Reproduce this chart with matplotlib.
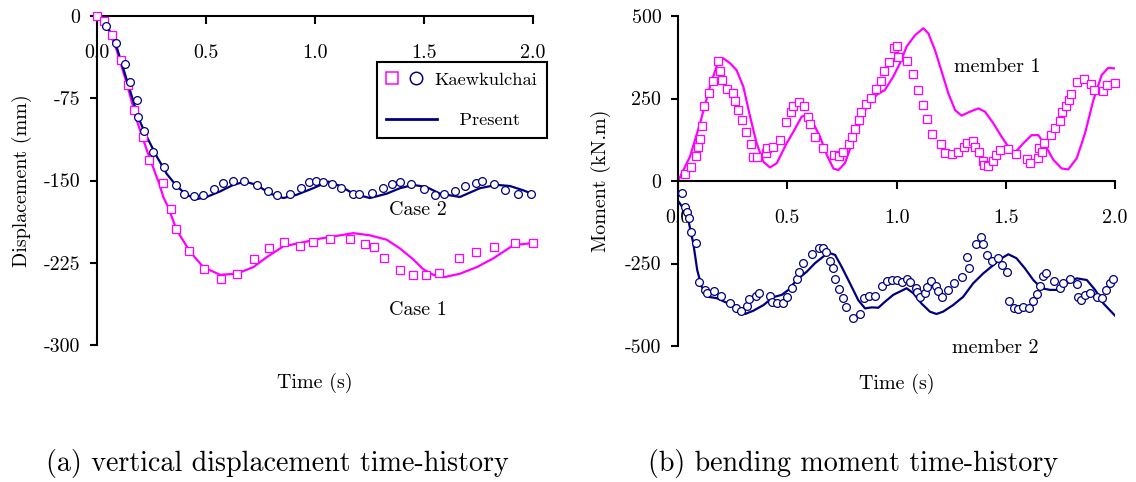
import matplotlib
matplotlib.use("Agg")
import matplotlib.pyplot as plt
from matplotlib.legend_handler import HandlerBase
from matplotlib.lines import Line2D

plt.rcParams["font.family"] = "cmr10"
plt.rcParams["axes.unicode_minus"] = False
plt.rcParams["mathtext.fontset"] = "cm"

MAGENTA = "#FF00FF"
NAVY = "#000080"

# ---------------- (a) vertical displacement ----------------
x_ticks = [0.0, 0.5, 1.0, 1.5, 2.0]
x_tick_labels = ["0.0", "0.5", "1.0", "1.5", "2.0"]
disp_ticks = [0, -75, -150, -225, -300]
disp_tick_labels = ["0", "-75", "-150", "-225", "-300"]

# Kaewkulchai, case 1 (squares)
case1_ref_t = [0.0, 0.034, 0.070, 0.110, 0.144, 0.171, 0.212, 0.240, 0.301, 0.339,
               0.361, 0.424, 0.491, 0.570, 0.642, 0.720, 0.789, 0.858, 0.930, 0.991,
               1.069, 1.161, 1.229, 1.269, 1.318, 1.388, 1.448, 1.508, 1.567, 1.659,
               1.739, 1.820, 1.919, 1.998]
case1_ref_d = [0, -5, -17, -40, -63, -86, -110, -131, -152, -176,
               -194, -214, -231, -240, -235, -222, -212, -206, -210, -206,
               -203, -203, -208, -211, -221, -232, -236, -236, -234, -221,
               -215, -211, -207, -207]

# Present, case 1 (line)
case1_t = [0, 0.044, 0.090, 0.136, 0.182, 0.228, 0.274, 0.284, 0.304, 0.326,
           0.365, 0.427, 0.488, 0.564, 0.641, 0.717, 0.778, 0.855, 0.931, 1.023,
           1.115, 1.176, 1.252, 1.329, 1.390, 1.451, 1.497, 1.543, 1.596, 1.665,
           1.742, 1.818, 1.910, 1.998]
case1_d = [0, -7, -31, -61, -95, -122, -147, -152, -165, -174,
           -195, -215, -229, -236, -235, -229, -220, -210, -207, -203,
           -200, -198, -200, -204, -212, -222, -231, -236, -238, -235,
           -229, -221, -209, -207]

# Kaewkulchai, case 2 (circles)
case2_ref_t = [0.040, 0.085, 0.128, 0.151, 0.183, 0.190, 0.217, 0.258, 0.309, 0.361,
               0.400, 0.445, 0.488, 0.538, 0.577, 0.625, 0.674, 0.735, 0.786, 0.827,
               0.885, 0.934, 0.974, 1.003, 1.035, 1.076, 1.118, 1.173, 1.202, 1.261,
               1.313, 1.355, 1.390, 1.440, 1.500, 1.550, 1.592, 1.642, 1.688, 1.737,
               1.765, 1.821, 1.872, 1.933, 1.989]
case2_ref_d = [-9, -25, -44, -60, -77, -92, -105, -124, -138, -154,
               -162, -164, -163, -158, -152, -150, -150, -154, -160, -163,
               -162, -157, -151, -150, -151, -153, -157, -162, -162, -161,
               -157, -153, -151, -153, -158, -163, -162, -160, -155, -152,
               -150, -153, -159, -162, -162]

# Present, case 2 (line)
case2_t = [0, 0.037, 0.085, 0.144, 0.190, 0.228, 0.274, 0.320, 0.365, 0.411,
           0.457, 0.503, 0.564, 0.625, 0.679, 0.732, 0.794, 0.855, 0.916, 0.992,
           1.061, 1.115, 1.176, 1.252, 1.329, 1.390, 1.451, 1.512, 1.573, 1.665,
           1.757, 1.833, 1.894, 1.956, 1.994]
case2_d = [0, -5, -25, -63, -93, -110, -128, -144, -155, -163,
           -167, -165, -160, -154, -151, -154, -162, -166, -163, -157,
           -151, -155, -162, -166, -162, -157, -154, -156, -162, -165,
           -157, -154, -155, -159, -162]

# ---------------- (b) bending moment ----------------
moment_ticks = [500, 250, 0, -250, -500]
moment_tick_labels = ["500", "250", "0", "-250", "-500"]

# Kaewkulchai, member 1 (squares)
m1_ref_t = [0.032, 0.059, 0.082, 0.090, 0.101, 0.108, 0.119, 0.142, 0.159, 0.183,
            0.192, 0.201, 0.223, 0.250, 0.261, 0.273, 0.291, 0.311, 0.332, 0.345,
            0.363, 0.403, 0.406, 0.433, 0.467, 0.494, 0.517, 0.525, 0.555, 0.577,
            0.596, 0.604, 0.627, 0.665, 0.714, 0.737, 0.757, 0.784, 0.795, 0.810,
            0.828, 0.838, 0.859, 0.883, 0.908, 0.928, 0.944, 0.967, 0.989, 1.001,
            1.009, 1.050, 1.077, 1.100, 1.120, 1.138, 1.161, 1.204, 1.222, 1.253,
            1.280, 1.310, 1.321, 1.352, 1.359, 1.379, 1.394, 1.402, 1.420, 1.440,
            1.455, 1.474, 1.512, 1.545, 1.596, 1.611, 1.646, 1.654, 1.664, 1.675,
            1.706, 1.725, 1.748, 1.759, 1.774, 1.789, 1.799, 1.825, 1.858, 1.890,
            1.905, 1.947, 1.965, 2.0]
m1_ref_m = [20, 41, 77, 104, 127, 168, 227, 268, 303, 364,
            333, 306, 278, 268, 243, 215, 185, 148, 112, 74,
            72, 86, 99, 102, 124, 180, 208, 227, 240, 227,
            195, 172, 134, 101, 79, 76, 89, 111, 134, 158,
            185, 208, 232, 252, 278, 303, 334, 361, 404, 410,
            377, 364, 324, 276, 230, 188, 142, 111, 86, 81,
            89, 104, 116, 121, 104, 89, 62, 48, 46, 62,
            79, 94, 96, 81, 66, 54, 69, 99, 89, 116,
            139, 160, 182, 210, 227, 245, 264, 299, 309, 293,
            276, 274, 291, 298]

# Present, member 1 (line)
m1_t = [0, 0.055, 0.101, 0.146, 0.184, 0.207, 0.238, 0.268, 0.299, 0.330,
        0.360, 0.391, 0.421, 0.452, 0.497, 0.528, 0.566, 0.589, 0.612, 0.650,
        0.681, 0.711, 0.734, 0.764, 0.795, 0.825, 0.863, 0.909, 0.947, 0.985,
        1.016, 1.046, 1.085, 1.123, 1.146, 1.176, 1.207, 1.237, 1.268, 1.298,
        1.336, 1.375, 1.405, 1.443, 1.481, 1.512, 1.542, 1.580, 1.618, 1.649,
        1.680, 1.718, 1.756, 1.786, 1.825, 1.863, 1.901, 1.939, 1.969, 2.0]
m1_m = [0, 74, 175, 286, 362, 372, 357, 336, 286, 195,
        114, 58, 41, 54, 114, 149, 195, 200, 185, 134,
        79, 38, 33, 54, 111, 160, 225, 261, 276, 316,
        357, 407, 442, 463, 447, 397, 331, 266, 215, 198,
        210, 220, 210, 175, 134, 104, 86, 114, 139, 139,
        109, 64, 38, 35, 69, 145, 245, 321, 343, 341]

# Kaewkulchai, member 2 (circles)
m2_ref_t = [0.017, 0.032, 0.043, 0.052, 0.058, 0.082, 0.097, 0.124, 0.131, 0.165,
            0.197, 0.238, 0.265, 0.288, 0.317, 0.326, 0.355, 0.371, 0.421, 0.429,
            0.452, 0.479, 0.500, 0.523, 0.543, 0.555, 0.570, 0.612, 0.645, 0.665,
            0.676, 0.696, 0.708, 0.718, 0.737, 0.757, 0.769, 0.799, 0.833, 0.851,
            0.874, 0.902, 0.932, 0.958, 0.981, 1.004, 1.024, 1.046, 1.064, 1.088,
            1.096, 1.109, 1.129, 1.141, 1.156, 1.179, 1.190, 1.206, 1.237, 1.263,
            1.302, 1.321, 1.332, 1.362, 1.385, 1.397, 1.416, 1.435, 1.466, 1.484,
            1.504, 1.516, 1.538, 1.558, 1.581, 1.608, 1.624, 1.642, 1.657, 1.669,
            1.684, 1.721, 1.748, 1.764, 1.794, 1.825, 1.832, 1.843, 1.863, 1.886,
            1.916, 1.939, 1.959, 1.977, 1.989]
m2_ref_m = [-35, -80, -95, -111, -155, -189, -307, -330, -340, -333,
            -347, -371, -386, -393, -379, -358, -348, -340, -348, -366,
            -371, -369, -352, -325, -298, -275, -248, -221, -202, -204,
            -216, -241, -265, -297, -327, -355, -381, -414, -403, -354,
            -348, -348, -318, -302, -300, -300, -305, -297, -307, -323,
            -337, -351, -338, -322, -302, -318, -333, -351, -330, -310,
            -290, -229, -263, -192, -171, -192, -224, -241, -234, -255,
            -275, -363, -384, -389, -383, -386, -364, -343, -318, -287,
            -280, -302, -325, -308, -298, -313, -352, -361, -345, -340,
            -351, -355, -330, -308, -297]

# Present, member 2 (line)
m2_t = [0, 0.024, 0.047, 0.070, 0.088, 0.108, 0.139, 0.177, 0.223, 0.269,
        0.307, 0.345, 0.391, 0.436, 0.475, 0.505, 0.543, 0.589, 0.627, 0.665,
        0.688, 0.719, 0.749, 0.787, 0.825, 0.856, 0.886, 0.917, 0.947, 0.985,
        1.016, 1.046, 1.077, 1.114, 1.153, 1.183, 1.213, 1.259, 1.305, 1.351,
        1.397, 1.443, 1.481, 1.512, 1.549, 1.588, 1.626, 1.664, 1.703, 1.741,
        1.779, 1.825, 1.871, 1.909, 1.947, 2.0]
m2_m = [-60, -83, -118, -189, -270, -320, -351, -355, -369, -386,
        -403, -393, -376, -352, -345, -330, -300, -275, -249, -229,
        -217, -224, -260, -310, -361, -386, -383, -384, -366, -345,
        -335, -325, -340, -371, -396, -403, -396, -376, -351, -310,
        -280, -255, -234, -222, -234, -265, -300, -325, -330, -330,
        -310, -295, -300, -330, -371, -408]

W, H = 1136, 482
fig = plt.figure(figsize=(W / 100, H / 100), dpi=100)
ax1 = fig.add_axes([97 / W, 1 - 345 / H, 436 / W, 329 / H])
ax2 = fig.add_axes([678 / W, 1 - 346 / H, 437 / W, 330 / H])

FS = 14.4
LEG_FS = 13.3
line_kw = dict(lw=1.6, zorder=2)
sq_kw = dict(ls="none", marker="s", ms=5.6, mfc="white", mec=MAGENTA, mew=0.9,
             zorder=3, clip_on=False)
ci_kw = dict(ls="none", marker="o", ms=5.6, mfc="white", mec=NAVY, mew=0.9,
             zorder=3, clip_on=False)


class MarkerPairHandler(HandlerBase):
    """Legend handle showing two marker-only lines side by side."""

    def __init__(self, positions=(0.1, 0.59), scale=1.6, **kw):
        super().__init__(**kw)
        self.positions = positions
        self.scale = scale

    def create_artists(self, legend, orig_handle, xdescent, ydescent,
                       width, height, fontsize, trans):
        y = height / 2 - ydescent
        artists = []
        for h, fx in zip(orig_handle, self.positions):
            m = Line2D([width * fx - xdescent], [y], ls="none",
                       marker=h.get_marker(),
                       ms=h.get_markersize() * self.scale,
                       mfc=h.get_markerfacecolor(),
                       mec=h.get_markeredgecolor(),
                       mew=h.get_markeredgewidth() * 1.2)
            m.set_transform(trans)
            artists.append(m)
        return artists


def style_axis(ax, yticks, ylabels):
    for side in ("top", "right"):
        ax.spines[side].set_visible(False)
    ax.spines["bottom"].set_position(("data", 0))
    for side in ("left", "bottom"):
        ax.spines[side].set_linewidth(1.5)
        ax.spines[side].set_color("black")
    ax.set_xlim(0, 2)
    ax.set_xticks(x_ticks, labels=x_tick_labels)
    ax.set_yticks(yticks, labels=ylabels)
    ax.tick_params(axis="x", direction="out", length=6, width=1.5, pad=14,
                   labelsize=FS)
    ax.tick_params(axis="y", direction="out", length=5, width=1.5, pad=7,
                   labelsize=FS)
    ax.set_facecolor("none")


# (a)
ax1.plot(case1_t, case1_d, color=MAGENTA, **line_kw)
p_present, = ax1.plot(case2_t, case2_d, color=NAVY, **line_kw)
p_sq, = ax1.plot(case1_ref_t, case1_ref_d, **sq_kw)
p_ci, = ax1.plot(case2_ref_t, case2_ref_d, **ci_kw)
ax1.set_ylim(-300, 0)
style_axis(ax1, disp_ticks, disp_tick_labels)
ax1.set_xlabel("Time (s)", fontsize=FS)
ax1.xaxis.set_label_coords(0.5, -0.085)
ax1.set_ylabel("Displacement (mm)", fontsize=FS)
ax1.yaxis.set_label_coords(-0.149, 0.5)
ax1.text(1.47, -177, "Case 2", ha="center", va="center", fontsize=FS)
ax1.text(1.47, -268, "Case 1", ha="center", va="center", fontsize=FS)

present_line = Line2D([], [], color=NAVY, lw=2.0)
leg = ax1.legend([(p_sq, p_ci), present_line],
                 ["Kaewkulchai", "    Present"],
                 handler_map={tuple: MarkerPairHandler()},
                 loc="upper right", bbox_to_anchor=(547 / W, 1 - 62 / H),
                 bbox_transform=fig.transFigure, fontsize=LEG_FS,
                 handlelength=2.75, handletextpad=-0.15, labelspacing=1.35,
                 borderpad=0.52, borderaxespad=0, fancybox=False,
                 framealpha=1, edgecolor="black")
leg.get_frame().set_linewidth(1.5)

# (b)
ax2.plot(m1_t, m1_m, color=MAGENTA, **line_kw)
ax2.plot(m2_t, m2_m, color=NAVY, **line_kw)
ax2.plot(m1_ref_t, m1_ref_m, **sq_kw)
ax2.plot(m2_ref_t, m2_ref_m, **ci_kw)
ax2.set_ylim(-500, 500)
style_axis(ax2, moment_ticks, moment_tick_labels)
ax2.set_xlabel("Time (s)", fontsize=FS)
ax2.xaxis.set_label_coords(0.5, -0.085)
ax2.set_ylabel("Moment (kN.m)", fontsize=FS)
ax2.yaxis.set_label_coords(-0.153, 0.5)
ax2.text(1.46, 345, "member 1", ha="center", va="center", fontsize=FS)
ax2.text(1.45, -506, "member 2", ha="center", va="center", fontsize=FS)

fig.text(277 / W, 1 - 464 / H, "(a) vertical displacement time-history",
         ha="center", va="center", fontsize=20.2)
fig.text(853 / W, 1 - 464 / H, "(b) bending moment time-history",
         ha="center", va="center", fontsize=20.2)

fig.savefig("out.png", dpi=100, facecolor="white")
